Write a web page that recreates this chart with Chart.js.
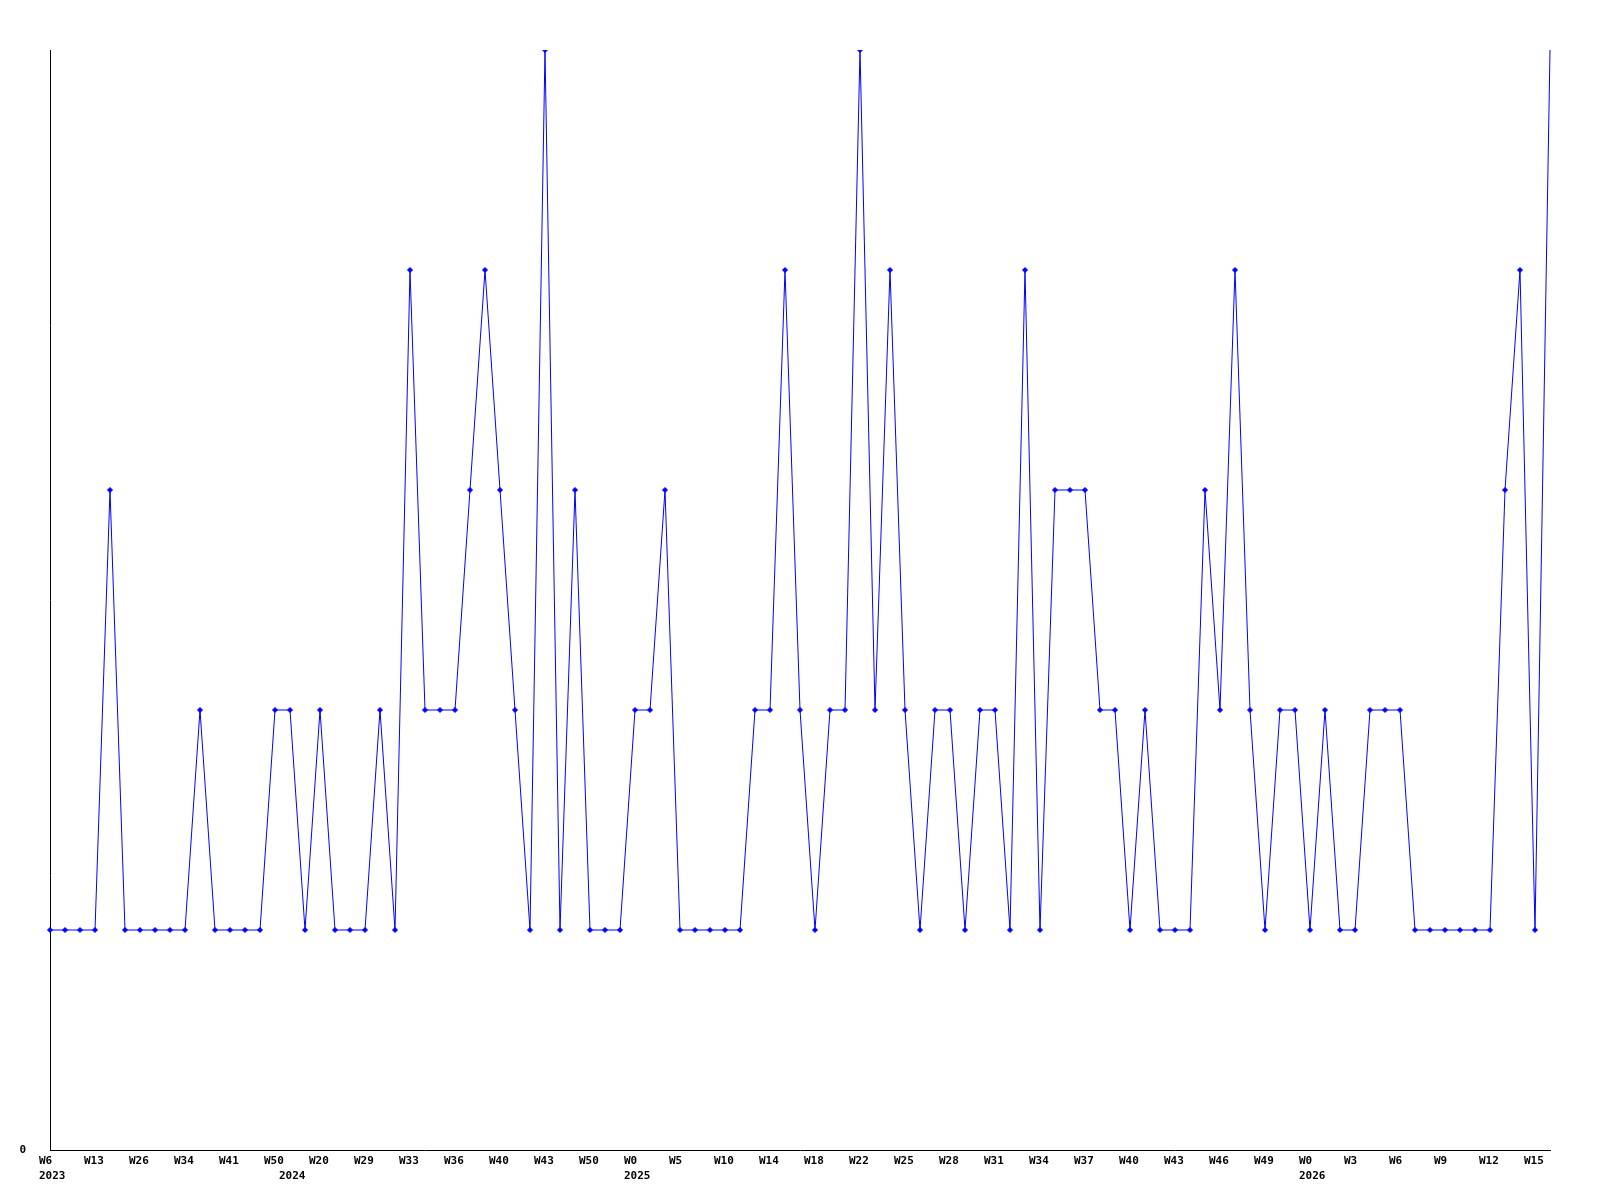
<!DOCTYPE html>
<html>
<head>
<meta charset="utf-8">
<script src="https://cdn.jsdelivr.net/npm/chart.js@4"></script>
<style>
  html, body { margin: 0; padding: 0; background: #fff; }
  canvas { display: block; }
</style>
</head>
<body>
<canvas id="grafico" width="1600" height="1200"></canvas>
<script>
// valores semanais (101 pontos)
const valores = [
  1, 1, 1, 1, 3, 1, 1, 1, 1, 1,
  2, 1, 1, 1, 1, 2, 2, 1, 2, 1,
  1, 1, 2, 1, 4, 2, 2, 2, 3, 4,
  3, 2, 1, 5, 1, 3, 1, 1, 1, 2,
  2, 3, 1, 1, 1, 1, 1, 2, 2, 4,
  2, 1, 2, 2, 5, 2, 4, 2, 1, 2,
  2, 1, 2, 2, 1, 4, 1, 3, 3, 3,
  2, 2, 1, 2, 1, 1, 1, 3, 2, 4,
  2, 1, 2, 2, 1, 2, 1, 1, 2, 2,
  2, 1, 1, 1, 1, 1, 1, 3, 4, 1,
  5
];

// rótulos das semanas, um a cada 3 pontos
const semanas = [
  'W6', 'W13', 'W26', 'W34', 'W41', 'W50', 'W20', 'W29', 'W33', 'W36',
  'W40', 'W43', 'W50', 'W0', 'W5', 'W10', 'W14', 'W18', 'W22', 'W25',
  'W28', 'W31', 'W34', 'W37', 'W40', 'W43', 'W46', 'W49', 'W0', 'W3',
  'W6', 'W9', 'W12', 'W15'
];
const passoRotulo = 3;

// onde começa cada ano
const anoIndices = [0, 16, 39, 84];
const anos = ['2023', '2024', '2025', '2026'];

// montar os rótulos do eixo x
const labels = valores.map((v, i) => {
  const semana = (i % passoRotulo === 0 && semanas[i / passoRotulo]) ? semanas[i / passoRotulo] : '';
  const k = anoIndices.indexOf(i);
  return k >= 0 ? [semana, anos[k]] : semana;
});

const fonte = { family: '"DejaVu Sans Mono", monospace', size: 11, weight: 'bold', lineHeight: '15px' };

const ctx = document.getElementById('grafico').getContext('2d');
new Chart(ctx, {
  type: 'line',
  data: {
    labels: labels,
    datasets: [{
      data: valores,
      borderColor: '#0000ff',
      backgroundColor: '#0000ff',
      borderWidth: 1,
      tension: 0,
      fill: false,
      pointStyle: 'rectRot',
      pointRadius: c => c.dataIndex === valores.length - 1 ? 0 : 2.5,
      pointBorderWidth: 1,
      pointBorderColor: '#0000ff',
      pointBackgroundColor: '#0000ff'
    }]
  },
  options: {
    responsive: false,
    animation: false,
    layout: { padding: { top: 50, right: 50, left: 0, bottom: 0 } },
    plugins: { legend: { display: false }, tooltip: { enabled: false } },
    scales: {
      x: {
        offset: false,
        grid: { display: false, drawTicks: false },
        border: { display: true, color: '#000', width: 1 },
        ticks: {
          autoSkip: false,
          maxRotation: 0,
          minRotation: 0,
          align: 'start',
          labelOffset: -11,
          padding: 4,
          color: '#000',
          font: fonte
        },
        afterFit: s => { s.height = 50; }
      },
      y: {
        min: 0,
        max: 5,
        grid: { display: false, drawTicks: false },
        border: { display: true, color: '#000', width: 1 },
        ticks: {
          stepSize: 1,
          padding: 24,
          color: '#000',
          font: fonte,
          callback: v => v === 0 ? '0' : ''
        },
        afterFit: s => { s.width = 50; }
      }
    }
  }
});
</script>
</body>
</html>
